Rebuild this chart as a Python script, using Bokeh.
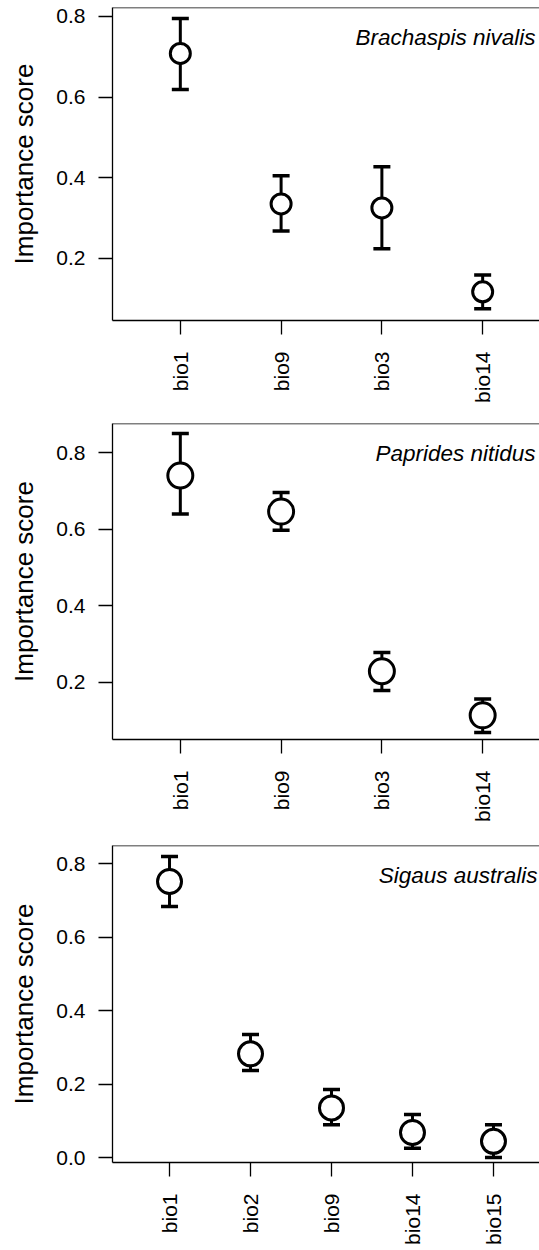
import math

from bokeh.embed import file_html
from bokeh.layouts import column
from bokeh.models import FixedTicker, Label, PrintfTickFormatter, Range1d, Span
from bokeh.plotting import figure
from bokeh.resources import INLINE

FONT = "Liberation Sans"
INK = "black"

# Brachaspis nivalis: variable importance (mean with interval)
bn_vars = ["bio1", "bio9", "bio3", "bio14"]
bn_score = [0.708, 0.335, 0.325, 0.117]
bn_low = [0.619, 0.268, 0.224, 0.075]
bn_high = [0.795, 0.405, 0.427, 0.159]

# Paprides nitidus
pn_vars = ["bio1", "bio9", "bio3", "bio14"]
pn_score = [0.740, 0.646, 0.229, 0.114]
pn_low = [0.640, 0.597, 0.179, 0.069]
pn_high = [0.850, 0.696, 0.278, 0.157]

# Sigaus australis
sa_vars = ["bio1", "bio2", "bio9", "bio14", "bio15"]
sa_score = [0.751, 0.282, 0.135, 0.068, 0.044]
sa_low = [0.683, 0.237, 0.089, 0.025, 0.000]
sa_high = [0.819, 0.335, 0.185, 0.117, 0.089]

ticks_short = [0.2, 0.4, 0.6, 0.8]
ticks_full = [0.0, 0.2, 0.4, 0.6, 0.8]

PAGE_W = 539


def panel(species, names, score, low, high, xr, yr, yticks,
          top, frame_h, bottom, left, dot):
    pos = list(range(1, len(names) + 1))
    p = figure(
        frame_width=PAGE_W - left, frame_height=frame_h,
        x_range=Range1d(*xr), y_range=Range1d(*yr),
        min_border_left=left, min_border_right=0,
        min_border_top=top, min_border_bottom=bottom,
        toolbar_location=None, output_backend="svg",
        outline_line_color=None, background_fill_color="white",
        border_fill_color="white",
    )
    p.grid.visible = False

    # x axis: one tick per predictor, labels rotated to read upward
    xa = p.xaxis[0]
    xa.ticker = FixedTicker(ticks=pos)
    xa.major_label_overrides = {i: n for i, n in zip(pos, names)}
    xa.major_label_orientation = math.pi / 2
    xa.minor_tick_line_color = None
    xa.major_tick_in = 0
    xa.major_tick_out = 14
    xa.major_label_standoff = 17

    ya = p.yaxis[0]
    ya.ticker = FixedTicker(ticks=yticks)
    ya.formatter = PrintfTickFormatter(format="%.1f")
    ya.minor_tick_line_color = None
    ya.major_tick_in = 0
    ya.major_tick_out = 14
    ya.major_label_standoff = 13
    ya.axis_label = "Importance score"
    ya.axis_label_text_font = FONT
    ya.axis_label_text_font_size = "26px"
    ya.axis_label_text_font_style = "normal"
    ya.axis_label_text_color = INK
    ya.axis_label_standoff = 14

    for ax in (xa, ya):
        ax.axis_line_color = INK
        ax.axis_line_width = 1.3
        ax.major_tick_line_color = INK
        ax.major_tick_line_width = 1.3
        ax.major_label_text_font = FONT
        ax.major_label_text_font_size = "21px"
        ax.major_label_text_color = INK

    # top edge of the box (the box is open on the right)
    p.add_layout(Span(location=yr[1], dimension="width",
                      line_color=INK, line_width=1.3))

    # interval stems and caps, then the open circles over them
    p.segment(x0=pos, y0=low, x1=pos, y1=high, line_color=INK, line_width=3)
    p.scatter(pos, low, marker="dash", size=17, line_color=INK, line_width=3.5)
    p.scatter(pos, high, marker="dash", size=17, line_color=INK, line_width=3.5)
    p.scatter(pos, score, marker="circle", size=dot, fill_color="white",
              line_color=INK, line_width=3)

    p.add_layout(Label(
        x=xr[1], y=yr[1], x_offset=-4, y_offset=-30, text=species,
        text_align="right", text_baseline="alphabetic",
        text_font=FONT, text_font_style="italic", text_font_size="22.5px",
        text_color=INK,
    ))
    return p


p1 = panel("Brachaspis nivalis", bn_vars, bn_score, bn_low, bn_high,
           (0.327, 4.564), (0.046, 0.822), ticks_short,
           top=7, frame_h=313, bottom=80, left=112, dot=20)
p2 = panel("Paprides nitidus", pn_vars, pn_score, pn_low, pn_high,
           (0.327, 4.564), (0.051, 0.876), ticks_short,
           top=18, frame_h=316, bottom=91, left=112, dot=25)
p3 = panel("Sigaus australis", sa_vars, sa_score, sa_low, sa_high,
           (0.296, 5.593), (-0.0136, 0.849), ticks_full,
           top=15, frame_h=317, bottom=84, left=110, dot=24)

page = column(p1, p2, p3, spacing=0)
open("out.html", "w").write(file_html(page, INLINE))
